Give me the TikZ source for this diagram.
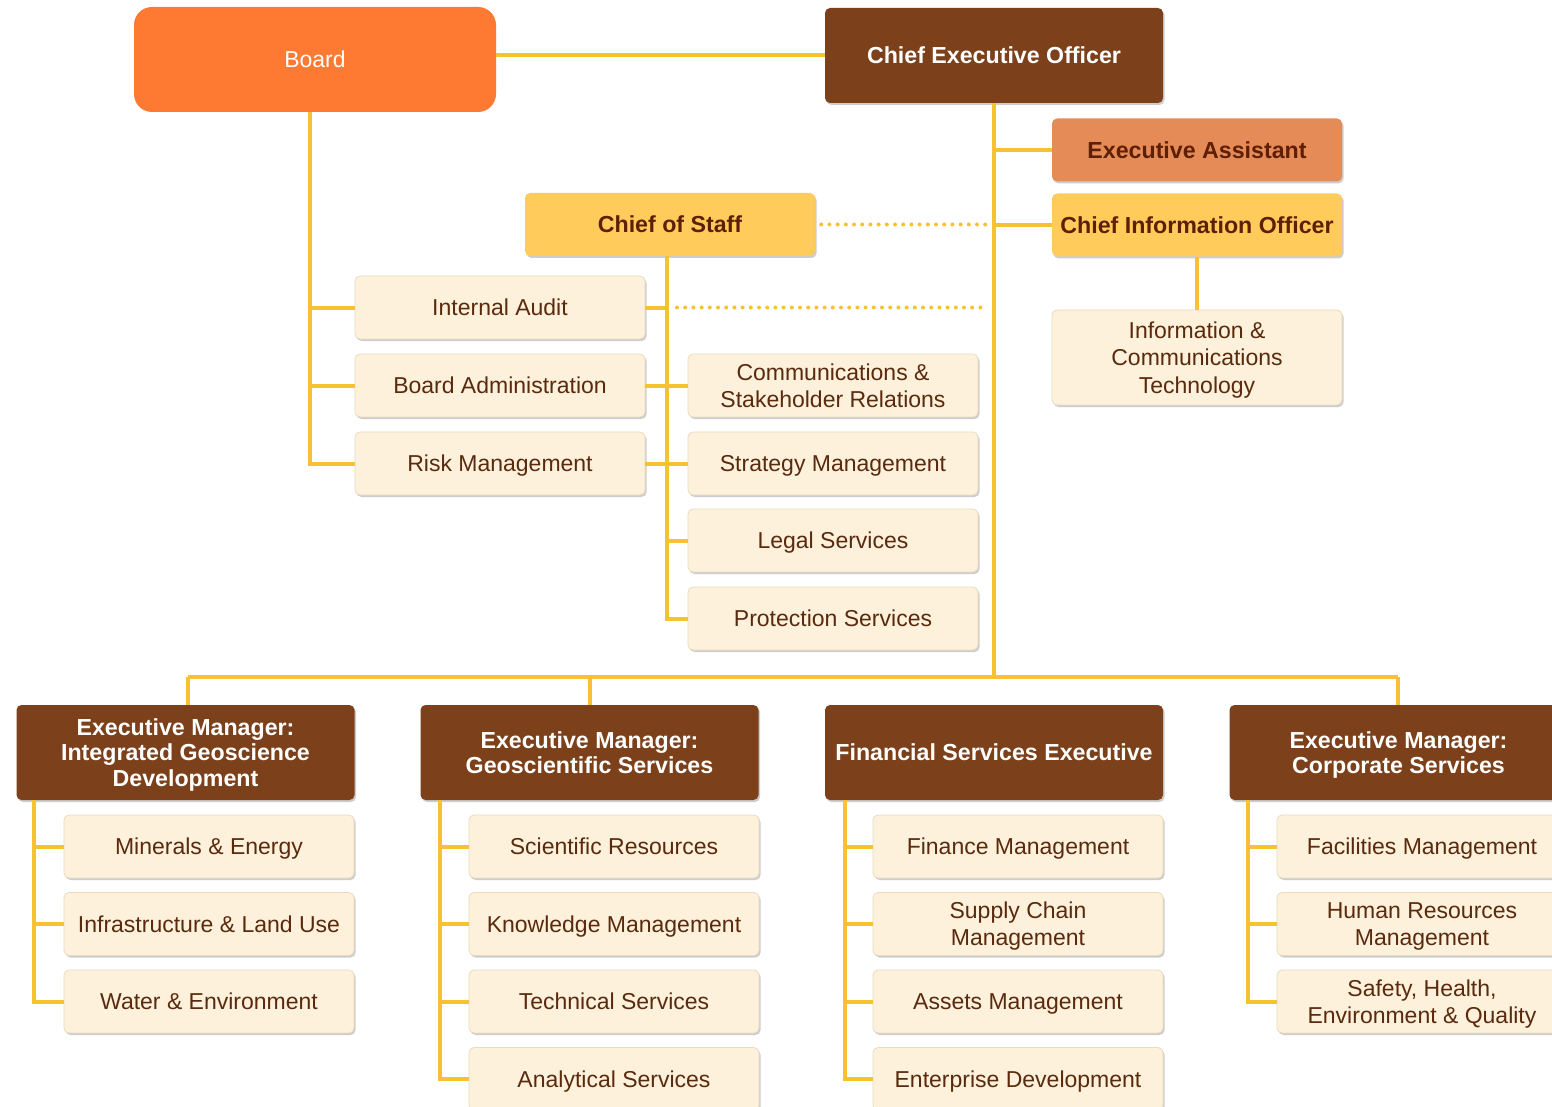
\documentclass[tikz,border=0pt]{standalone}
\usepackage{fontspec}
\setmainfont{Liberation Sans}
\usetikzlibrary{shadows}
\definecolor{linec}{HTML}{F6C232}
\definecolor{cream}{HTML}{FDF1DC}
\definecolor{cedge}{HTML}{EADBC0}
\definecolor{tbrown}{HTML}{5A2A0E}
\definecolor{brn}{HTML}{7C411B}
\definecolor{orng}{HTML}{FE7A33}
\definecolor{salmon}{HTML}{E58B58}
\definecolor{yel}{HTML}{FFCC5C}
\definecolor{dkred}{HTML}{5E1F05}
\newcommand\regf{\fontsize{23}{27.3}\selectfont}
\newcommand\bldf{\fontsize{23.2}{25.5}\selectfont\bfseries}
\tikzset{
  shad/.style={drop shadow={shadow xshift=1.5pt, shadow yshift=-2pt, opacity=0.28, fill=black!70}},
  oneline/.style={text height=16.5pt, text depth=0pt},
  multi/.style={text height=, text depth=0pt},
  lightbox/.style={shad, draw=cedge, line width=0.8pt, fill=cream, text=tbrown, rounded corners=5pt,
    minimum width=290pt, minimum height=63pt, inner sep=2pt, align=center, font=\regf, oneline},
  brownbox/.style={shad, fill=brn, text=white, rounded corners=5pt,
    minimum width=338pt, minimum height=95pt, inner sep=2pt, align=center, font=\bldf, oneline},
  hibox/.style={shad, text=dkred, rounded corners=5pt, minimum width=290pt, minimum height=63pt,
    inner sep=2pt, align=center, font=\bldf, oneline},
  conn/.style={draw=linec, line width=4pt},
  dotconn/.style={draw=linec, line width=4pt, line cap=round, dash pattern=on 0pt off 8.2pt},
}
\begin{document}
\begin{tikzpicture}[x=1pt,y=-1pt]
\useasboundingbox (0,0) rectangle (1552,1107);
\clip (0,0) rectangle (1552,1107);
\fill[white] (0,0) rectangle (1552,1107);

% coordinates for vertical trunks
\coordinate (bl) at (310,0);
\coordinate (cl) at (667,0);
\coordinate (bus) at (0,677);

% top level
\node[fill=orng, text=white, rounded corners=18pt, minimum width=362pt, minimum height=105pt,
  font=\fontsize{23}{27}\selectfont, text height=16.5pt, text depth=0pt] (board) at (315,59.5) {Board};
\node[brownbox] (ceo) at (994,55.5) {Chief Executive Officer};
\node[hibox, fill=salmon] (ea) at (1197,150) {Executive Assistant};
\node[hibox, fill=yel] (cio) at (1197,225) {Chief Information Officer};
\node[hibox, fill=yel] (cos) at (670,224.5) {Chief of Staff};
\node[lightbox, multi, minimum height=95pt] (ict) at (1197,357.5) {Information \&\\Communications\\Technology};

% board units
\node[lightbox] (ia) at (500,307.5) {Internal Audit};
\node[lightbox] (ba) at (500,385.5) {Board Administration};
\node[lightbox] (rm) at (500,463.5) {Risk Management};

% chief of staff units
\node[lightbox, multi] (csr) at (833,385.5) {Communications \&\\Stakeholder Relations};
\node[lightbox] (sm) at (833,463.5) {Strategy Management};
\node[lightbox] (ls) at (833,540.5) {Legal Services};
\node[lightbox] (ps) at (833,618.5) {Protection Services};

% executives
\node[brownbox, multi] (igd) at (185.5,752.5) {Executive Manager:\\Integrated Geoscience\\Development};
\node[brownbox, multi] (gss) at (589.5,752.5) {Executive Manager:\\Geoscientific Services};
\node[brownbox] (fse) at (994,752.5) {Financial Services Executive};
\node[brownbox, multi] (cs) at (1398.5,752.5) {Executive Manager:\\Corporate Services};

% IGD children
\node[lightbox] (me) at (209,846.5) {Minerals \& Energy};
\node[lightbox] (il) at (209,924) {Infrastructure \& Land Use};
\node[lightbox] (we) at (209,1001.5) {Water \& Environment};
% GSS children
\node[lightbox] (sr) at (614,846.5) {Scientific Resources};
\node[lightbox] (km) at (614,924) {Knowledge Management};
\node[lightbox] (ts) at (614,1001.5) {Technical Services};
\node[lightbox] (as) at (614,1079) {Analytical Services};
% FSE children
\node[lightbox] (fm) at (1018,846.5) {Finance Management};
\node[lightbox, multi] (scm) at (1018,924) {Supply Chain\\Management};
\node[lightbox] (am) at (1018,1001.5) {Assets Management};
\node[lightbox] (ed) at (1018,1079) {Enterprise Development};
% CS children
\node[lightbox] (fac) at (1422,846.5) {Facilities Management};
\node[lightbox, multi] (hr) at (1422,924) {Human Resources\\Management};
\node[lightbox, multi] (she) at (1422,1001.5) {Safety, Health,\\Environment \& Quality};

% connectors
\draw[conn] (board.east |- ceo.west) -- (ceo.west);
\draw[conn] (board.south -| bl) -- (bl |- rm.west) -- (rm.west);
\draw[conn] (bl |- ia.west) -- (ia.west);
\draw[conn] (bl |- ba.west) -- (ba.west);

\draw[conn] (ceo.south) -- (ceo.south |- bus);
\draw[conn] (ceo.south |- ea.west) -- (ea.west);
\draw[conn] (ceo.south |- cio.west) -- (cio.west);
\draw[conn] (cio.south) -- (ict.north);
\draw[dotconn] ([xshift=6pt]cos.east) -- ([xshift=-6pt]cos.east -| ceo.south);

\draw[conn] (cos.south -| cl) -- (cl |- ps.west) -- (ps.west);
\draw[conn] (cl |- ls.west) -- (ls.west);
\draw[conn] (ba.east) -- (csr.west);
\draw[conn] (rm.east) -- (sm.west);
\draw[conn] (ia.east) -- (ia.east -| cl);
\draw[dotconn] ([xshift=10pt]ia.east -| cl) -- ([xshift=-6pt]ia.east -| ceo.south);

\draw[conn] ([xshift=2.5pt]igd.north |- bus) -- ([xshift=-0.5pt]cs.north |- bus);
\draw[conn] ([xshift=2.5pt]igd.north |- bus) -- ([xshift=2.5pt]igd.north);
\draw[conn] (gss.north |- bus) -- (gss.north);
\draw[conn] ([xshift=-0.5pt]cs.north |- bus) -- ([xshift=-0.5pt]cs.north);

\foreach \pn/\off/\kids/\lastk in {igd/18/{me,il}/we, gss/20/{sr,km,ts}/as, fse/20/{fm,scm,am}/ed, cs/19/{fac,hr}/she}{
  \draw[conn] ([xshift=\off pt]\pn.south west) -- ([xshift=\off pt]\pn.south west |- \lastk.west) -- (\lastk.west);
  \foreach \k in \kids {
    \draw[conn] ([xshift=\off pt]\pn.south west |- \k.west) -- (\k.west);
  }
}
\end{tikzpicture}
\end{document}
